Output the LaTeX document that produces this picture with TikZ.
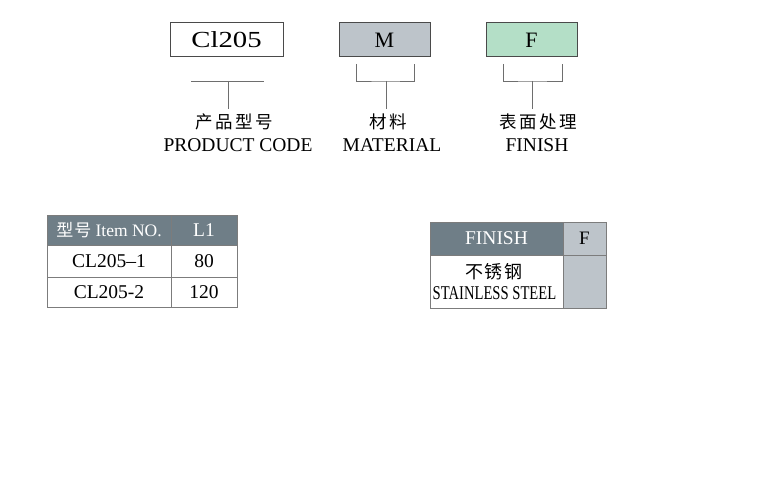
\documentclass[tikz,border=0pt]{standalone}
\usepackage{fontspec}
\setmainfont{Liberation Serif}
\newfontfamily\cjk[LetterSpace=14]{Noto Sans CJK SC}
\newfontfamily\cjktight[LetterSpace=6]{Noto Sans CJK SC}
\newfontfamily\wideserif[FakeStretch=1.25]{Liberation Serif}
\newfontfamily\narrowserif[FakeStretch=0.75]{Liberation Serif}
\usetikzlibrary{positioning}
\definecolor{slate}{HTML}{6F7E87}
\definecolor{lightslate}{HTML}{BDC4CA}
\definecolor{mint}{HTML}{B4DFC7}
\definecolor{boxline}{HTML}{4A4A4A}
\definecolor{bline}{HTML}{6E6E6E}
\definecolor{gridline}{HTML}{7C7C7C}
\tikzset{
  tag/.style={draw=boxline, line width=1pt, inner sep=0pt, minimum height=34pt},
  cell/.style={draw=gridline, line width=0.9pt, inner sep=0pt},
  bracket/.style={draw=bline, line width=0.9pt},
  en/.style={font=\fontsize{19.5}{20}\selectfont},
  cn/.style={font=\cjk\fontsize{17.5}{17.5}\selectfont}
}
\begin{document}
\begin{tikzpicture}[x=1pt,y=-1pt]
  \useasboundingbox (0,0) rectangle (778,500);

  % code boxes
  \node[tag, minimum width=113pt, font=\wideserif\fontsize{23}{23}\selectfont] (code) at (226.5,40) {Cl205};
  \node[tag, fill=lightslate, minimum width=91pt, font=\fontsize{22}{22}\selectfont] (mat) at (384.5,40) {M};
  \node[tag, fill=mint, minimum width=91pt, font=\fontsize{22}{22}\selectfont] (fin) at (531.5,40) {F};

  % brackets
  \coordinate (codeL) at (191,81);
  \coordinate (codeR) at (264,81);
  \coordinate (codeT) at (228,81);
  \coordinate (codeB) at (228,109);
  \draw[bracket] (codeL) -- (codeR);
  \draw[bracket] (codeT) -- (codeB);

  \coordinate (matL) at (356,64);
  \coordinate (matR) at (414,64);
  \coordinate (matT) at (386,81);
  \coordinate (matB) at (386,109);
  \draw[bracket] (matL) |- (matT) -| (matR);
  \draw[bracket] (matT) -- (matB);

  \coordinate (finL) at (503,64);
  \coordinate (finR) at (562,64);
  \coordinate (finT) at (532,81);
  \coordinate (finB) at (532,109);
  \draw[bracket] (finL) |- (finT) -| (finR);
  \draw[bracket] (finT) -- (finB);

  % labels
  \node[cn] (codecn) at (234,122) {产品型号};
  \node[en] (codeen) at (238,145.5) {PRODUCT CODE};
  \node[cn] (matcn) at (388,122) {材料};
  \node[en] (maten) at (392,145.5) {MATERIAL};
  \node[cn] (fincn) at (538,122) {表面处理};
  \node[en] (finen) at (537,145.5) {FINISH};

  % item table
  \node[cell, fill=slate, text=white, minimum width=124pt, minimum height=30pt, font=\fontsize{17.5}{17.5}\selectfont] (itemh) at (109,230) {{\cjktight\fontsize{17}{17}\selectfont 型号} Item NO.};
  \node[cell, fill=slate, text=white, minimum width=66pt, minimum height=30pt, en] (lenh) at (204,230) {L1};
  \node[cell, minimum width=124pt, minimum height=32pt, en] (itema) at (109,261) {CL205--1};
  \node[cell, minimum width=66pt, minimum height=32pt, en] (lena) at (204,261) {80};
  \node[cell, minimum width=124pt, minimum height=30pt, en] (itemb) at (109,292) {CL205-2};
  \node[cell, minimum width=66pt, minimum height=30pt, en] (lenb) at (204,292) {120};

  % finish table
  \node[cell, fill=slate, text=white, minimum width=133pt, minimum height=33pt, en] (finh) at (496.5,238.5) {FINISH};
  \node[cell, fill=lightslate, minimum width=43pt, minimum height=33pt, font=\fontsize{19}{19}\selectfont] (fcodeh) at (584.5,238.5) {F};
  \node[cell, minimum width=133pt, minimum height=53pt] (steel) at (496.5,281.5) {};
  \node[cell, fill=lightslate, minimum width=43pt, minimum height=53pt] (fcode) at (584.5,281.5) {};
  \node[font=\cjktight\fontsize{18}{18}\selectfont, inner sep=0pt] (steelcn) at (494,272) {不锈钢};
  \node[font=\narrowserif\fontsize{19.5}{20}\selectfont, inner sep=0pt] (steelen) at (494.5,293) {STAINLESS STEEL};
\end{tikzpicture}
\end{document}
